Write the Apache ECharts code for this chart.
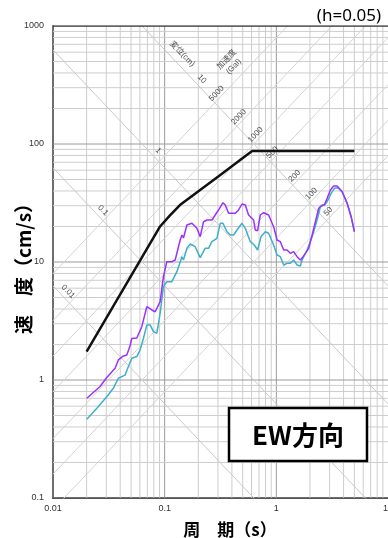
<!DOCTYPE html>
<html><head><meta charset="utf-8">
<script src="https://cdn.jsdelivr.net/npm/echarts@6/dist/echarts.min.js"></script>
<style>html,body{margin:0;padding:0;background:#fff}#c{width:388px;height:538px}</style>
</head><body><div id="c"></div>
<script>
// ---- data ----
const xTicks = [0.01, 0.1, 1, 10];
const yTicks = [0.1, 1, 10, 100, 1000];
const dispLines = [0.01, 0.1, 1, 10];            // displacement (cm)
const dispLabelT = [0.0123, 0.0253, 0.0787, 0.194]; // period where each label sits
const accLines = [50, 100, 200, 500, 1000, 2000, 5000]; // acceleration (Gal)
const accLabelAlongD = 14;                          // labels sit along this displacement
const designT = [0.02, 0.091, 0.11, 0.137, 0.3, 0.607, 5];
const designV = [1.74, 20, 24.5, 30.4, 52.9, 87.3, 87.3];
const purpleT = [0.0201,0.0264,0.0303,0.036,0.0385,0.0427,0.0458,0.049,0.0508,0.0563,
 0.0624,0.0692,0.0716,0.0768,0.0822,0.0851,0.0911,0.0975,0.1046,0.116,
 0.1242,0.1377,0.1427,0.1474,0.1582,0.1753,0.1944,0.2082,0.2228,0.239,
 0.265,0.2837,0.3101,0.3327,0.3488,0.3734,0.4288,0.4591,0.4925,0.5272,
 0.5644,0.6257,0.6482,0.6797,0.7186,0.7695,0.8529,0.9458,1.015,1.086,
 1.163,1.247,1.335,1.43,1.533,1.641,1.736,1.82,1.949,2.091,
 2.238,2.395,2.57,2.695,2.85,3.05,3.265,3.503,3.884,4.307,
 4.677,5.0];
const purpleV = [0.70,0.88,1.05,1.26,1.48,1.60,1.63,1.95,2.25,2.27,
 2.83,4.18,4.32,3.92,3.79,3.70,4.61,7.51,10.06,10.06,
 10.39,15.36,16.94,15.97,20.58,21.28,19.30,16.39,21.95,22.69,
 22.69,25.02,28.52,31.81,30.42,25.86,25.86,27.59,31.01,30.42,
 25.02,22.69,18.67,18.42,25.02,26.17,25.02,19.92,15.36,14.86,
 12.64,12.64,11.85,12.23,11.09,10.39,11.09,11.85,13.06,16.94,
 21.95,28.52,30.42,30.42,34.66,40.75,44.07,44.07,39.43,31.45,
 24.21,18.06];
const cyanT = [0.0201,0.0247,0.0303,0.0347,0.0385,0.0413,0.0442,0.0473,0.0508,0.0563,
 0.0603,0.0646,0.0692,0.0741,0.0794,0.0851,0.0911,0.0975,0.1046,0.116,
 0.1287,0.1427,0.1474,0.1582,0.1693,0.1877,0.2082,0.2307,0.247,0.265,
 0.2938,0.3147,0.3327,0.3613,0.3867,0.414,0.4441,0.4925,0.5272,0.5845,
 0.6349,0.6797,0.7291,0.7968,0.8529,0.9458,1.015,1.086,1.163,1.247,
 1.335,1.43,1.533,1.641,1.70,1.885,2.091,2.317,2.481,2.695,
 2.85,3.095,3.313,3.547,3.884,4.307,4.677,5.0];
const cyanV = [0.465,0.576,0.722,0.85,1.034,1.067,1.10,1.30,1.53,1.58,
 1.80,2.26,2.93,2.93,2.57,2.49,3.68,6.18,6.81,6.81,
 8.28,11.09,10.39,13.06,14.21,13.48,10.9,13.06,13.06,14.86,
 15.88,21.28,21.28,18.06,16.94,16.94,18.67,21.28,19.30,14.86,
 13.93,12.64,16.39,18.06,17.51,13.93,11.46,11.09,9.43,9.75,
 9.75,10.39,9.43,9.25,10.39,12.64,16.39,22.69,29.42,30.42,
 32.43,38.21,42.13,42.63,39.43,31.45,24.21,18.06];

// ---- build ----
const X0 = xTicks[0], X1 = xTicks[xTicks.length-1];
const Y0 = yTicks[0], Y1 = yTicks[yTicks.length-1];
const TWO_PI = 2*Math.PI;
const series = [];
function gridLine(data, major){
  series.push({type:'line', data, symbol:'none', silent:true, animation:false, z:1,
    lineStyle:{color: major ? '#9a9a9a' : '#cdcdcd', width:1}});
}
for (let d = X0; d < X1*0.999; d *= 10) {
  for (let k = 1; k <= 9; k++) { const v = +(d*k).toPrecision(3); gridLine([[v,Y0],[v,Y1]], k===1); }
}
for (let d = Y0; d < Y1*0.999; d *= 10) {
  for (let k = 1; k <= 9; k++) { const v = +(d*k).toPrecision(3); gridLine([[X0,v],[X1,v]], k===1); }
}
// top border
series.push({type:'line', data:[[X0,Y1],[X1,Y1]], symbol:'none', silent:true, animation:false, z:3,
  lineStyle:{color:'#333', width:1.5}});
// displacement lines V = 2*pi*D/T
dispLines.forEach(D => {
  series.push({type:'line', data:[[X0, TWO_PI*D/X0],[X1, TWO_PI*D/X1]], symbol:'none', silent:true,
    animation:false, z:2, clip:true, lineStyle:{color:'#c9c9c9', width:1}});
});
// acceleration lines V = A*T/(2*pi)
accLines.forEach(A => {
  series.push({type:'line', data:[[X0, A*X0/TWO_PI],[X1, A*X1/TWO_PI]], symbol:'none', silent:true,
    animation:false, z:2, clip:true, lineStyle:{color:'#d4d4d4', width:1}});
});
const lblBase = {show:true, position:'inside', fontSize:8, color:'#222', fontFamily:'Liberation Sans, Noto Sans CJK JP'};
const labelData = [];
accLines.forEach(A => {
  const T = TWO_PI*Math.sqrt(accLabelAlongD/A), V = Math.sqrt(A*accLabelAlongD);
  labelData.push({value:[T,V], label:Object.assign({}, lblBase, {formatter:String(A), rotate:46, offset:[-4,-5]})});
});
dispLines.forEach((D,i) => {
  const T = dispLabelT[i];
  labelData.push({value:[T, TWO_PI*D/T], label:Object.assign({}, lblBase, {formatter:String(D), rotate:-46, offset:[0,-7]})});
});
labelData.push({value:[0.124, TWO_PI*10/0.124], label:Object.assign({}, lblBase, {formatter:'変位(cm)', rotate:-46, offset:[0,-10]})});
labelData.push({value:[0.49, 5000*0.49/TWO_PI], label:Object.assign({}, lblBase, {formatter:'加速度\n(Gal)', rotate:46, offset:[0,-16], lineHeight:10})});
series.push({type:'scatter', data:labelData, symbolSize:0.1, silent:true, animation:false, z:4,
  itemStyle:{color:'rgba(0,0,0,0)'}});

const zip = (a,b) => a.map((t,i)=>[t,b[i]]);
series.push({type:'line', name:'cyan', data:zip(cyanT,cyanV), symbol:'none', animation:false, z:5,
  lineStyle:{color:'#3eafc9', width:1.5}});
series.push({type:'line', name:'purple', data:zip(purpleT,purpleV), symbol:'none', animation:false, z:6,
  lineStyle:{color:'#9b30ff', width:1.5}});
series.push({type:'line', name:'design', data:zip(designT,designV), symbol:'none', animation:false, z:7,
  lineStyle:{color:'#111', width:2.5}});

const fmt = v => String(+v.toPrecision(6));
const chart = echarts.init(document.getElementById('c'), null, {renderer:'canvas'});
chart.setOption({
  animation:false,
  grid:{left:53, right:0, top:26, bottom:40, containLabel:false, outerBoundsMode:'none'},
  xAxis:{type:'log', min:X0, max:X1, logBase:10,
    axisLine:{show:true, lineStyle:{color:'#000', width:1.5}}, axisTick:{show:false}, splitLine:{show:false},
    axisLabel:{fontSize:9, color:'#333', margin:6, fontFamily:'Liberation Sans', formatter:fmt}},
  yAxis:{type:'log', min:Y0, max:Y1, logBase:10,
    axisLine:{show:true, lineStyle:{color:'#000', width:1.5}}, axisTick:{show:false}, splitLine:{show:false},
    axisLabel:{fontSize:9, color:'#333', margin:9, fontFamily:'Liberation Sans', formatter:fmt}},
  series,
  graphic:[
    {type:'text', right:7, top:8, z:100, style:{text:'(h=0.05)', font:'17px "Noto Sans", sans-serif', fill:'#000'}},
    {type:'rect', z:100, shape:{x:229, y:408, width:138, height:53}, style:{fill:'#fff', stroke:'#000', lineWidth:2.5}},
    {type:'text', z:101, x:298, y:435, style:{text:'EW方向', font:'bold 26px "Noto Sans CJK JP"', fill:'#000',
      align:'center', verticalAlign:'middle', textAlign:'center', textVerticalAlign:'middle'}},
    {type:'text', z:100, x:24, y:264, rotation:Math.PI/2, style:{text:'速　度（cm/s）', font:'bold 19px "Noto Sans CJK JP"', fill:'#000',
      align:'center', verticalAlign:'middle', textAlign:'center', textVerticalAlign:'middle'}},
    {type:'text', z:100, x:230, y:530, style:{text:'周　期（s）', font:'bold 17px "Noto Sans CJK JP"', fill:'#000',
      align:'center', verticalAlign:'middle', textAlign:'center', textVerticalAlign:'middle'}}
  ]
});
</script></body></html>
